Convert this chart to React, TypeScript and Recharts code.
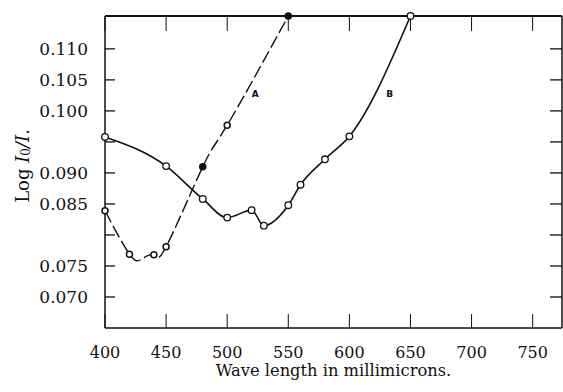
import React from "react";
import { LineChart, Line, XAxis, YAxis, ReferenceDot } from "recharts";

// curve A (dashed); 430 is the trough of the drawn curve, no marker there
const wavelengthA = [400, 420, 430, 440, 450, 480, 500, 550];
const logA = [0.0839, 0.0769, 0.0761, 0.0768, 0.0781, 0.091, 0.0977, 0.1153];
const filledA = [480, 550];
const unmarkedA = [430];

const wavelengthB = [400, 450, 480, 500, 520, 530, 550, 560, 580, 600, 650];
const logB = [0.0958, 0.0911, 0.0858, 0.0828, 0.084, 0.0815, 0.0848, 0.0881, 0.0922, 0.0959, 0.1153];

const xTicks = [400, 450, 500, 550, 600, 650, 700, 750];
const yTicks = [0.07, 0.075, 0.08, 0.085, 0.09, 0.095, 0.1, 0.105, 0.11];
const yUnlabeled = [0.08, 0.095];

const dataA = wavelengthA.map((x, i) => ({ x, y: logA[i] }));
const dataB = wavelengthB.map((x, i) => ({ x, y: logB[i] }));

const serif = "'DejaVu Serif', serif";
const xDomain = [400, 774];
const yDomain = [0.065, 0.1153];

function dotA(props: any) {
  const { cx, cy, payload, index } = props;
  if (unmarkedA.includes(payload.x)) return <g key={"a" + index} />;
  const filled = filledA.includes(payload.x);
  return <circle key={"a" + index} cx={cx} cy={cy} r={3} fill={filled ? "#111" : "#fff"} stroke="#111" strokeWidth={1.5} />;
}

function dotB(props: any) {
  const { cx, cy, index } = props;
  return <circle key={"b" + index} cx={cx} cy={cy} r={3.3} fill="#fff" stroke="#111" strokeWidth={1.3} />;
}

function YLabel() {
  return (
    <text transform="rotate(-90, 22, 166)" x={22} y={166} textAnchor="middle" dominantBaseline="central" fontFamily={serif} fontSize={18} fill="#111">
      <tspan>Log </tspan>
      <tspan fontStyle="italic">I</tspan>
      <tspan fontSize={12} dy={4}>0</tspan>
      <tspan fontStyle="italic" dy={-4}>/I.</tspan>
    </text>
  );
}

function XLabel(props: any) {
  const { viewBox } = props;
  return (
    <text x={viewBox.x + viewBox.width / 2} y={viewBox.y + 48} textAnchor="middle" fontFamily={serif} fontSize={16.3} fill="#111">
      Wave length in millimicrons.
    </text>
  );
}

export default function App() {
  const axisStroke = { stroke: "#111", strokeWidth: 1.5 };
  return (
    <div style={{ position: "absolute", left: 0, top: 0, background: "#fff" }}>
      <LineChart width={563} height={392} margin={{ top: 15, right: 0, bottom: 0, left: 0 }}>
        <XAxis
          xAxisId="b"
          type="number"
          dataKey="x"
          domain={xDomain}
          ticks={xTicks}
          orientation="bottom"
          height={64}
          tickSize={-14}
          tickMargin={33}
          axisLine={axisStroke}
          tickLine={{ stroke: "#111", strokeWidth: 1 }}
          tick={{ fontFamily: serif, fontSize: 16, fill: "#111" }}
          label={{ content: XLabel }}
        />
        <XAxis
          xAxisId="t"
          type="number"
          dataKey="x"
          domain={xDomain}
          ticks={xTicks}
          orientation="top"
          height={1}
          tickSize={-15}
          tickFormatter={() => ""}
          axisLine={{ stroke: "#111", strokeWidth: 2 }}
          tickLine={{ stroke: "#111", strokeWidth: 1 }}
        />
        <YAxis
          yAxisId="l"
          type="number"
          domain={yDomain}
          ticks={yTicks}
          width={105}
          tickSize={-10}
          tickMargin={27}
          axisLine={axisStroke}
          tickLine={{ stroke: "#111", strokeWidth: 1.3 }}
          tick={{ fontFamily: serif, fontSize: 17, fill: "#111" }}
          tickFormatter={(v: number) => (yUnlabeled.includes(v) ? "" : v.toFixed(3))}
          label={{ content: YLabel }}
        />
        <YAxis
          yAxisId="r"
          type="number"
          orientation="right"
          domain={yDomain}
          ticks={yTicks}
          width={1}
          tickSize={-12}
          tickFormatter={() => ""}
          axisLine={axisStroke}
          tickLine={{ stroke: "#111", strokeWidth: 1.3 }}
        />
        <Line
          xAxisId="b"
          yAxisId="l"
          data={dataA}
          dataKey="y"
          type="natural"
          stroke="#111"
          strokeWidth={1.4}
          strokeDasharray="13 4"
          dot={dotA}
          activeDot={false}
          isAnimationActive={false}
        />
        <Line
          xAxisId="t"
          yAxisId="r"
          data={dataB}
          dataKey="y"
          type="monotone"
          stroke="#111"
          strokeWidth={1.6}
          dot={dotB}
          activeDot={false}
          isAnimationActive={false}
        />
        <ReferenceDot xAxisId="b" yAxisId="l" x={523} y={0.1028} r={0} label={{ value: "A", fontFamily: "'DejaVu Sans', sans-serif", fontSize: 9, fontWeight: 700, fill: "#111" }} />
        <ReferenceDot xAxisId="b" yAxisId="l" x={633} y={0.1028} r={0} label={{ value: "B", fontFamily: "'DejaVu Sans', sans-serif", fontSize: 9, fontWeight: 700, fill: "#111" }} />
      </LineChart>
    </div>
  );
}
